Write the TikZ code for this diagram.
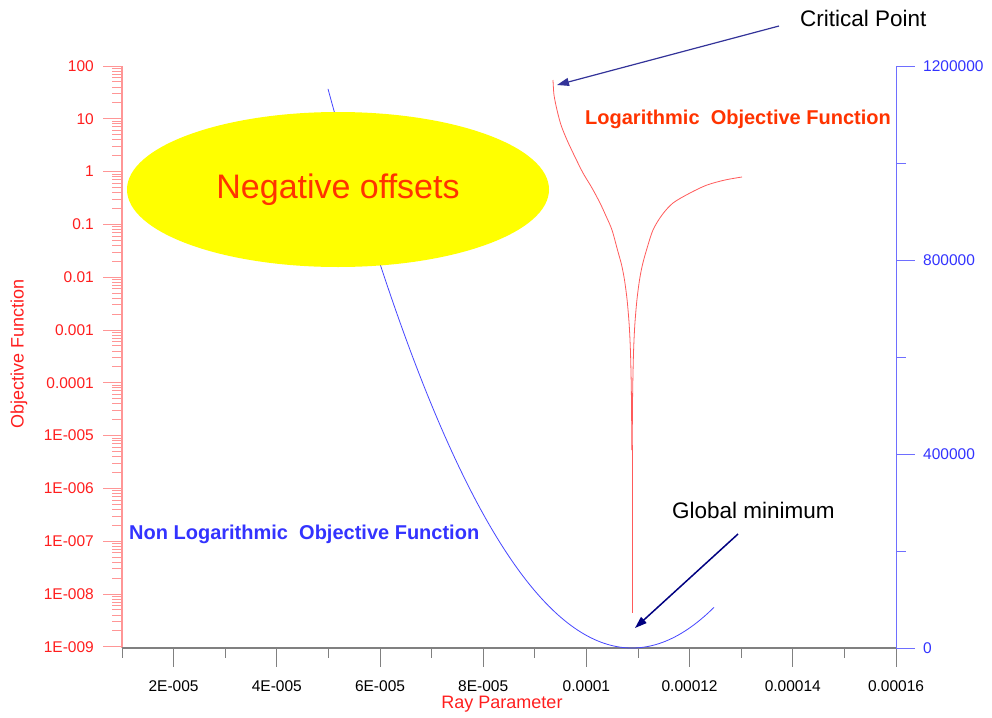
\documentclass[tikz,border=0pt]{standalone}
\usepackage{fontspec}
\setmainfont{Liberation Sans}
\usepackage{tikz}
\usetikzlibrary{arrows.meta,shapes.geometric}
\definecolor{axisred}{RGB}{255,150,150}
\definecolor{labelred}{RGB}{255,30,30}
\definecolor{orangered}{RGB}{255,51,0}
\definecolor{labelblue}{RGB}{51,51,255}
\definecolor{axisblue}{RGB}{110,110,255}
\definecolor{curveblue}{RGB}{70,70,255}
\definecolor{curvered}{RGB}{255,90,90}
\definecolor{critnavy}{RGB}{51,51,153}
\definecolor{minnavy}{RGB}{0,0,128}
\definecolor{pureyellow}{RGB}{255,255,0}
\newcommand{\ticksize}{\fontsize{15.5}{18}\selectfont}

\begin{document}
\begin{tikzpicture}[x=1pt,y=-1pt,
  redtick/.style={axisred,line width=1pt},
  graytick/.style={gray,line width=1pt},
  bluetick/.style={axisblue,line width=1pt},
  ticklabel/.style={font=\ticksize,inner sep=0pt},
  callout/.style={font=\fontsize{22.5}{26}\selectfont,inner sep=0pt,anchor=base west},
  curvename/.style={font=\fontsize{20}{24}\selectfont\bfseries,inner sep=0pt,anchor=base west},
  pointer/.style={line width=1.2pt,-{Triangle[length=12pt,width=8pt]}}]
  \useasboundingbox (0,0) rectangle (992,717);
  \draw[redtick,line width=1.5pt] (122,66) to (122,648);
  \foreach \lab [count=\i from 0] in {100,10,1,0.1,0.01,0.001,0.0001,1E-005,1E-006,1E-007,1E-008,1E-009} {
    \draw[redtick] (103,{66+52.8*\i}) to (122,{66+52.8*\i});
    \node[ticklabel,labelred,anchor=east] at (94,{66+52.8*\i}) {\lab};
  }
  \foreach \d in {0,...,10}
    \foreach \m in {2,...,9}
      \draw[redtick] (112,{66+52.8*(\d+1-ln(\m)/ln(10))}) to (122,{66+52.8*(\d+1-ln(\m)/ln(10))});
  \draw[graytick,line width=1.5pt] (122,648) to (896,648);
  \foreach \p in {1,3,...,15}
    \draw[graytick] ({122+51.6*(\p-1)},648) to ({122+51.6*(\p-1)},658);
  \foreach \lab [count=\i] in {2E-005,4E-005,6E-005,8E-005,0.0001,0.00012,0.00014,0.00016} {
    \draw[graytick] ({122+51.6*(2*\i-1)},648) to ({122+51.6*(2*\i-1)},667);
    \node[ticklabel] at ({122+51.6*(2*\i-1)},686) {\lab};
  }
  \draw[bluetick] (896,66) to (896,648);
  \foreach \k in {1,3,5}
    \draw[bluetick] (896,{648-97*\k}) to (906,{648-97*\k});
  \foreach \lab [count=\i from 0] in {0,400000,800000,1200000} {
    \draw[bluetick] (896,{648-194*\i}) to (915,{648-194*\i});
    \node[ticklabel,labelblue,anchor=west] at (923,{648-194*\i}) {\lab};
  }
  \node[font=\fontsize{18}{22}\selectfont,labelred] (xtitle) at (502,704) {Ray Parameter};
  \node[font=\fontsize{18}{22}\selectfont,labelred,rotate=90] (ytitle) at (19,354) {Objective Function};
  \draw[curveblue,line width=0.8pt] plot[domain=328:714,samples=120] (\x,{648-60.5*((\x-632)/100)^2});
  \node[ellipse,fill=pureyellow,minimum width=422pt,minimum height=155pt,inner sep=0pt,
    font=\fontsize{34}{40}\selectfont,text=orangered] (negoff) at (338,189.5) {Negative offsets};
  \draw[curvered,line width=0.8pt] plot[smooth] coordinates {(553,80) (554,95) (557,110) (561,125)
    (567,140) (575,157) (583,173) (592,188) (600,203) (606,216) (612,230) (617.5,250) (621.6,265)
    (624.5,280) (627.1,300) (629.2,325) (630.4,350) (631.15,380) (631.56,410) (631.8,450)};
  \draw[curvered,line width=0.8pt] plot[smooth] coordinates {(742,177) (725,180) (707,185) (690,193)
    (673,203) (662,215) (653,230) (646.5,250) (642.4,265) (639.5,280) (636.9,300) (634.8,325)
    (633.6,350) (632.85,380) (632.44,410) (632.2,450)};
  \draw[curvered,line width=0.6pt] (632,445) to (632,613);
  \node[curvename,orangered] (loglabel) at (585,124) {Logarithmic\ \ Objective Function};
  \node[curvename,labelblue] (nonloglabel) at (129,539) {Non Logarithmic\ \ Objective Function};
  \node[callout] (critlabel) at (800,27) {Critical Point};
  \node[callout] (minlabel) at (672,518) {Global minimum};
  \coordinate (critstart) at (779,26);
  \coordinate (crittip) at (557,85);
  \coordinate (minstart) at (738,534);
  \coordinate (mintip) at (635,628);
  \draw[pointer,critnavy] (critstart) to (crittip);
  \draw[pointer,minnavy,line width=1.5pt] (minstart) to (mintip);
\end{tikzpicture}
\end{document}
